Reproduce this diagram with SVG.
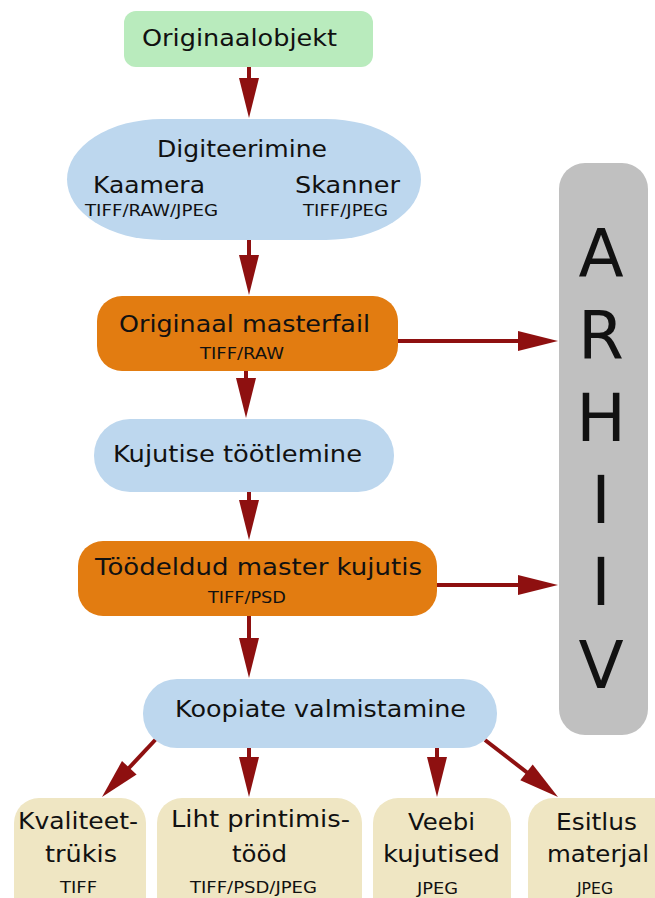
<svg xmlns="http://www.w3.org/2000/svg" width="655" height="898" viewBox="0 0 655 898">
<defs>
<style>
text{font-family:"DejaVu Sans","Liberation Sans",sans-serif;fill:#111;text-anchor:middle}
.t{font-size:23px}
.s{font-size:16px}
.big{font-size:66px}
.c{stroke:#8e1010;stroke-width:4;fill:none}
.h{fill:#8e1010}
.green{fill:#b9ebbd}
.blue{fill:#bdd7ee}
.orange{fill:#e27c11}
.cream{fill:#efe6c3}
.grey{fill:#c0c0c0}
</style>
</defs>
<g id="archive">
<rect class="grey" x="559" y="163" width="89" height="572" rx="26"/>
<text class="big" x="601" y="276">A</text>
<text class="big" x="601" y="358">R</text>
<text class="big" x="601" y="441">H</text>
<text class="big" x="601" y="523">I</text>
<text class="big" x="601" y="605">I</text>
<text class="big" x="601" y="688">V</text>
</g>
<g id="connectors">
<line class="c" x1="249" y1="67" x2="249" y2="82"/><polygon class="h" points="239,78 259,78 249,118"/>
<line class="c" x1="249" y1="240" x2="249" y2="259"/><polygon class="h" points="239,255 259,255 249,295"/>
<line class="c" x1="246" y1="371" x2="246" y2="382"/><polygon class="h" points="236,378 256,378 246,418"/>
<line class="c" x1="249" y1="492" x2="249" y2="504"/><polygon class="h" points="239,500 259,500 249,540"/>
<line class="c" x1="249" y1="616" x2="249" y2="642"/><polygon class="h" points="239,638 259,638 249,678"/>
<line class="c" x1="398" y1="341" x2="521" y2="341"/><polygon class="h" points="518,331 518,351 558,341"/>
<line class="c" x1="437" y1="585" x2="521" y2="585"/><polygon class="h" points="518,575 518,595 558,585"/>
<line class="c" x1="249" y1="748" x2="249" y2="761"/><polygon class="h" points="239,757 259,757 249,797"/>
<line class="c" x1="437" y1="748" x2="437" y2="761"/><polygon class="h" points="427,757 447,757 437,797"/>
<line class="c" x1="157" y1="738" x2="128" y2="769"/><polygon class="h" points="136.6,774.6 122,761 102,797"/>
<line class="c" x1="485" y1="740" x2="529" y2="774"/><polygon class="h" points="520.3,780.3 532.7,764.5 558,797"/>
</g>
<g id="originaalobjekt">
<rect class="green" x="124" y="11" width="249" height="56" rx="12"/>
<text class="t" x="239.5" y="46" textLength="195" lengthAdjust="spacingAndGlyphs">Originaalobjekt</text>
</g>
<g id="digiteerimine">
<rect class="blue" x="67" y="119" width="354" height="121" rx="95" ry="60.5"/>
<text class="t" x="242" y="157" textLength="170" lengthAdjust="spacingAndGlyphs">Digiteerimine</text>
<text class="t" x="149" y="193" textLength="112" lengthAdjust="spacingAndGlyphs">Kaamera</text>
<text class="s" x="151.5" y="216" textLength="133" lengthAdjust="spacingAndGlyphs">TIFF/RAW/JPEG</text>
<text class="t" x="347.5" y="193" textLength="105" lengthAdjust="spacingAndGlyphs">Skanner</text>
<text class="s" x="345.5" y="216" textLength="85" lengthAdjust="spacingAndGlyphs">TIFF/JPEG</text>
</g>
<g id="originaal-masterfail">
<rect class="orange" x="97" y="296" width="301" height="75" rx="25"/>
<text class="t" x="244.5" y="332" textLength="251" lengthAdjust="spacingAndGlyphs">Originaal masterfail</text>
<text class="s" x="242" y="359" textLength="84" lengthAdjust="spacingAndGlyphs">TIFF/RAW</text>
</g>
<g id="kujutise-tootlemine">
<rect class="blue" x="94" y="419" width="300" height="73" rx="36"/>
<text class="t" x="237.5" y="462" textLength="249" lengthAdjust="spacingAndGlyphs">Kujutise töötlemine</text>
</g>
<g id="tootletud-master">
<rect class="orange" x="78" y="541" width="359" height="75" rx="25"/>
<text class="t" x="258.5" y="575" textLength="327" lengthAdjust="spacingAndGlyphs">Töödeldud master kujutis</text>
<text class="s" x="247" y="603" textLength="78" lengthAdjust="spacingAndGlyphs">TIFF/PSD</text>
</g>
<g id="koopiate-valmistamine">
<rect class="blue" x="143" y="679" width="354" height="69" rx="34"/>
<text class="t" x="320.5" y="717" textLength="291" lengthAdjust="spacingAndGlyphs">Koopiate valmistamine</text>
</g>
<g id="kvaliteettrukis">
<rect class="cream" x="14" y="798" width="132" height="130" rx="25"/>
<text class="t" x="78" y="829" textLength="120" lengthAdjust="spacingAndGlyphs">Kvaliteet-</text>
<text class="t" x="81" y="862" textLength="72" lengthAdjust="spacingAndGlyphs">trükis</text>
<text class="s" x="78.5" y="893" textLength="37" lengthAdjust="spacingAndGlyphs">TIFF</text>
</g>
<g id="liht-printimistood">
<rect class="cream" x="157" y="798" width="205" height="130" rx="25"/>
<text class="t" x="260.5" y="827" textLength="179" lengthAdjust="spacingAndGlyphs">Liht printimis-</text>
<text class="t" x="259.5" y="862" textLength="55" lengthAdjust="spacingAndGlyphs">tööd</text>
<text class="s" x="253.5" y="893" textLength="127" lengthAdjust="spacingAndGlyphs">TIFF/PSD/JPEG</text>
</g>
<g id="veebi-kujutised">
<rect class="cream" x="373" y="798" width="138" height="130" rx="25"/>
<text class="t" x="441.5" y="830" textLength="67" lengthAdjust="spacingAndGlyphs">Veebi</text>
<text class="t" x="441.5" y="862" textLength="117" lengthAdjust="spacingAndGlyphs">kujutised</text>
<text class="s" x="437.5" y="894" textLength="41" lengthAdjust="spacingAndGlyphs">JPEG</text>
</g>
<g id="esitlus-materjal">
<rect class="cream" x="528" y="798" width="150" height="130" rx="25"/>
<text class="t" x="596.5" y="830" textLength="81" lengthAdjust="spacingAndGlyphs">Esitlus</text>
<text class="t" x="598" y="862" textLength="102" lengthAdjust="spacingAndGlyphs">materjal</text>
<text class="s" x="595" y="894" textLength="36" lengthAdjust="spacingAndGlyphs">JPEG</text>
</g>
</svg>
